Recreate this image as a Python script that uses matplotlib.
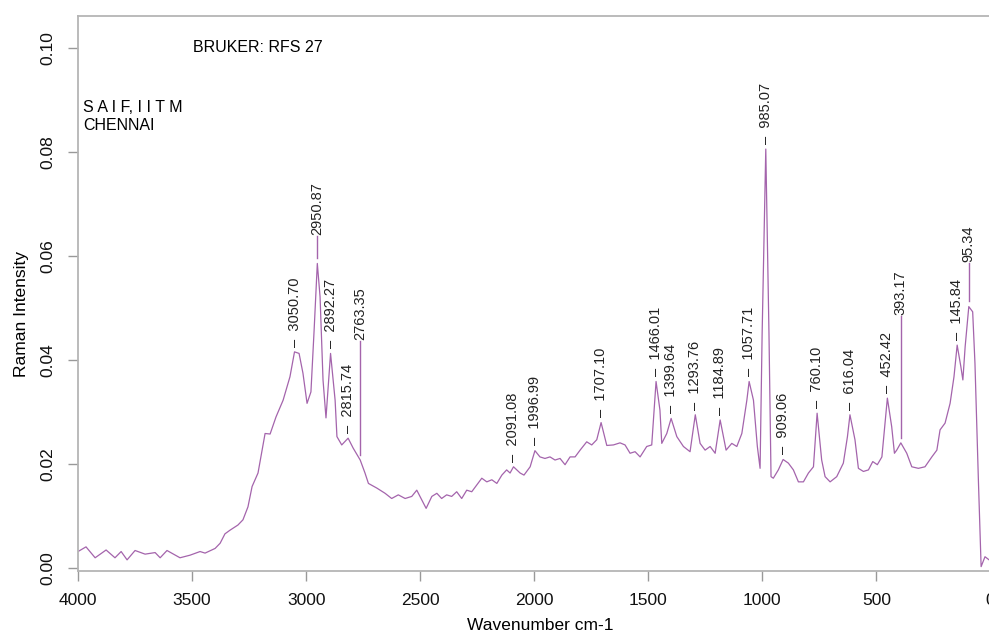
import matplotlib
matplotlib.use('Agg')
import matplotlib.pyplot as plt
import matplotlib.ticker as ticker

plt.rcParams['font.family'] = ['Liberation Sans', 'DejaVu Sans']

# spectrum (wavenumber, intensity)
wavenumber = [4000, 3965, 3925, 3877, 3838, 3811, 3785, 3750, 3706, 3662, 3640, 3610,
              3553, 3509, 3465, 3443, 3399, 3377, 3356, 3334, 3299, 3277, 3255, 3237,
              3211, 3193, 3180, 3158, 3132, 3101, 3071, 3051, 3031, 3014, 2996, 2979,
              2965, 2951, 2939, 2926, 2913, 2893, 2873, 2865, 2844, 2816, 2794, 2763,
              2742, 2727, 2690, 2654, 2625, 2596, 2566, 2537, 2515, 2493, 2474, 2449,
              2427, 2406, 2384, 2362, 2340, 2318, 2296, 2274, 2252, 2230, 2208, 2186,
              2164, 2142, 2121, 2106, 2091, 2062, 2045, 2018, 1997, 1975, 1953, 1931,
              1909, 1887, 1865, 1843, 1821, 1799, 1770, 1748, 1726, 1707, 1682, 1653,
              1624, 1602, 1580, 1558, 1536, 1507, 1485, 1466, 1449, 1441, 1419, 1400,
              1375, 1346, 1317, 1294, 1273, 1251, 1229, 1207, 1185, 1159, 1134, 1112,
              1090, 1068, 1058, 1039, 1022, 1010, 1001, 985, 971, 962, 952, 930,
              909, 886, 864, 842, 820, 798, 776, 760, 740, 725, 703, 674,
              645, 627, 616, 594, 579, 557, 535, 516, 496, 476, 452, 433,
              421, 411, 393, 367, 345, 316, 287, 257, 235, 221, 199, 177,
              160, 146, 130, 121, 111, 95, 78, 68, 53, 41, 24, 6]
intensity = [0.0031, 0.0040, 0.0019, 0.0034, 0.0019, 0.0031, 0.0015, 0.0033, 0.0026, 0.0029, 0.0019, 0.0033,
             0.0019, 0.0024, 0.0031, 0.0028, 0.0037, 0.0047, 0.0065, 0.0072, 0.0082, 0.0092, 0.0117, 0.0156,
             0.0182, 0.0226, 0.0258, 0.0257, 0.0290, 0.0322, 0.0367, 0.0415, 0.0412, 0.0374, 0.0316, 0.0338,
             0.0457, 0.0585, 0.0521, 0.0361, 0.0288, 0.0412, 0.0322, 0.0252, 0.0236, 0.0249, 0.0230, 0.0207,
             0.0182, 0.0162, 0.0153, 0.0143, 0.0133, 0.0140, 0.0133, 0.0137, 0.0149, 0.0130, 0.0114, 0.0137,
             0.0143, 0.0133, 0.0140, 0.0137, 0.0146, 0.0133, 0.0149, 0.0146, 0.0159, 0.0172, 0.0165, 0.0169,
             0.0162, 0.0178, 0.0188, 0.0182, 0.0194, 0.0182, 0.0178, 0.0194, 0.0225, 0.0213, 0.0210, 0.0213,
             0.0207, 0.0210, 0.0198, 0.0213, 0.0213, 0.0226, 0.0242, 0.0236, 0.0246, 0.0279, 0.0235, 0.0236,
             0.0240, 0.0236, 0.0220, 0.0223, 0.0213, 0.0233, 0.0236, 0.0358, 0.0303, 0.0239, 0.0258, 0.0287,
             0.0252, 0.0233, 0.0223, 0.0294, 0.0239, 0.0226, 0.0233, 0.0220, 0.0284, 0.0226, 0.0239, 0.0233,
             0.0258, 0.0322, 0.0358, 0.0322, 0.0233, 0.0191, 0.0450, 0.0805, 0.0450, 0.0175, 0.0172, 0.0188,
             0.0208, 0.0201, 0.0188, 0.0165, 0.0165, 0.0182, 0.0194, 0.0297, 0.0207, 0.0175, 0.0165, 0.0175,
             0.0201, 0.0252, 0.0294, 0.0246, 0.0191, 0.0185, 0.0188, 0.0204, 0.0198, 0.0213, 0.0326, 0.0271,
             0.0220, 0.0226, 0.0240, 0.0220, 0.0194, 0.0191, 0.0194, 0.0213, 0.0226, 0.0265, 0.0278, 0.0316,
             0.0367, 0.0428, 0.0387, 0.0361, 0.0425, 0.0502, 0.0492, 0.0393, 0.0169, 0.0002, 0.0021, 0.0015]

# peak labels
peak_labels = ['3050.70', '2950.87', '2892.27', '2815.74', '2763.35', '2091.08', '1996.99',
               '1707.10', '1466.01', '1399.64', '1293.76', '1184.89', '1057.71', '985.07',
               '909.06', '760.10', '616.04', '452.42', '393.17', '145.84', '95.34']
peak_tops = [0.0415, 0.0587, 0.0412, 0.0249, 0.0209, 0.0194, 0.0225,
             0.0279, 0.0358, 0.0287, 0.0294, 0.0284, 0.0358, 0.0805,
             0.0208, 0.0297, 0.0294, 0.0326, 0.0242, 0.0428, 0.0504]
# labels lifted above their peak, joined by a line
lifted = {'2950.87': 0.0640, '2763.35': 0.0438, '393.17': 0.0486, '95.34': 0.0588}

line_col = '#a464ac'

fig = plt.figure(figsize=(9.89, 6.35), dpi=100)
ax = fig.add_axes([0.0789, 0.1013, 0.9272, 0.8728])

ax.plot(wavenumber, intensity, color=line_col, linewidth=0.9)

for lab, top in zip(peak_labels, peak_tops):
    xpos = float(lab)
    if lab in lifted:
        ax.plot([xpos, xpos], [top + 0.0008, lifted[lab] - 0.0003], color=line_col, linewidth=1.0)
        ax.text(xpos, lifted[lab], lab, rotation=90, ha='center', va='bottom',
                fontsize=10.5, color='#222222')
    else:
        ax.text(xpos, top + 0.0010, '\u2013  ' + lab, rotation=90, ha='center', va='bottom',
                fontsize=10.5, color='#222222')

ax.set_xlim(4000, -20)
ax.set_ylim(-0.00058, 0.1060)
ax.xaxis.set_major_locator(ticker.MultipleLocator(500))
ax.yaxis.set_major_locator(ticker.MultipleLocator(0.02))
ax.yaxis.set_major_formatter(ticker.FormatStrFormatter('%.2f'))
ax.tick_params(axis='both', colors='#999999', labelcolor='#111111', labelsize=12.5,
               length=7, width=1.0, pad=9)
for lbl in ax.get_yticklabels():
    lbl.set_rotation(90)
    lbl.set_va('center')

for side in ['left', 'bottom', 'top']:
    ax.spines[side].set_color('#b5b5b5')
    ax.spines[side].set_linewidth(1.3)
ax.spines['right'].set_visible(False)

fig.text(540 / 989, 1 - 625 / 635, 'Wavenumber cm-1', ha='center', va='center', fontsize=12.5)
fig.text(22 / 989, 1 - 314 / 635, 'Raman Intensity', ha='center', va='center',
         rotation=90, fontsize=12.5)

fig.text(193 / 989, 1 - 47 / 635, 'BRUKER: RFS 27', ha='left', va='center', fontsize=11.5)
fig.text(83 / 989, 1 - 107 / 635, 'S A I F, I I T M', ha='left', va='center', fontsize=11.5)
fig.text(83 / 989, 1 - 126 / 635, 'CHENNAI', ha='left', va='center', fontsize=11.5)

fig.savefig('out.png', dpi=100)
